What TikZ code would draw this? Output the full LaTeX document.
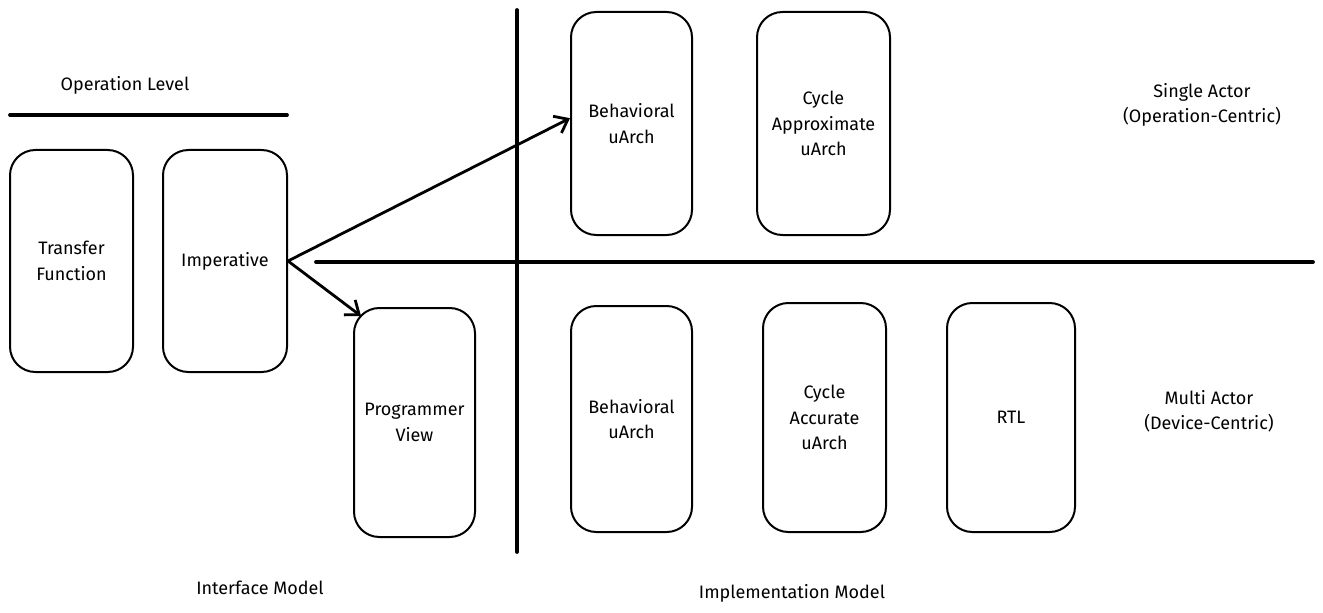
\documentclass[tikz,border=0pt]{standalone}
\usepackage{fontspec}
\setmainfont{Fira Sans}
\usetikzlibrary{arrows.meta}
\tikzset{stage/.style={draw, rounded corners=19pt, line width=1.5pt, align=center, inner sep=0pt},
  divider/.style={line width=2.8pt, line cap=round},
  flow/.style={->, line width=2.1pt},
  caption/.style={align=center}}

\begin{document}
\begin{tikzpicture}[x=0.75pt,y=-0.75pt,>={Straight Barb[length=9pt,width=14pt]},every node/.style={font=\fontsize{13.5}{19}\selectfont}]
    \useasboundingbox (0,0) rectangle (1323,613);
    % interface side
    \node[caption] (oplevel) at (125,85) {Operation Level};
    \draw[divider] (10,115) -- (287,115);
    \node[stage,minimum width=92.25pt,minimum height=166.5pt] (transfer) at (71.5,261) {Transfer\\Function};
    \node[stage,minimum width=93pt,minimum height=166.5pt] (imperative) at (225,261) {Imperative};
    \node[stage,minimum width=90.75pt,minimum height=171.75pt] (progview) at (414.5,422.5) {Programmer\\View};
    % implementation side
    \draw[divider] (517,10) -- (517,552);
    \draw[divider] (316,262) -- (1313,262);
    \node[stage,minimum width=90.75pt,minimum height=167.25pt] (behavtop) at (631.5,123.5) {Behavioral\\uArch};
    \node[stage,minimum width=99.75pt,minimum height=167.25pt] (cycapprox) at (823.5,123.5) {Cycle\\Approximate\\uArch};
    \node[stage,minimum width=90.75pt,minimum height=169.5pt] (behavbot) at (631.5,419) {Behavioral\\uArch};
    \node[stage,minimum width=92.25pt,minimum height=171.75pt] (cycacc) at (824.5,417.5) {Cycle\\Accurate\\uArch};
    \node[stage,minimum width=96pt,minimum height=171.75pt] (rtl) at (1011,417.5) {RTL};
    \node[caption] (single) at (1202,105) {Single Actor\\(Operation-Centric)};
    \node[caption] (multi) at (1209,411) {Multi Actor\\(Device-Centric)};
    \node[caption] (ifmodel) at (260,588) {Interface Model};
    \node[caption] (implmodel) at (792,593) {Implementation Model};
    % arrows
    \draw[flow] (imperative.east) -- ([yshift=4pt]behavtop.west);
    \draw[flow] (imperative.east) -- ([shift={(8,9)}]progview.north west);
\end{tikzpicture}
\end{document}
